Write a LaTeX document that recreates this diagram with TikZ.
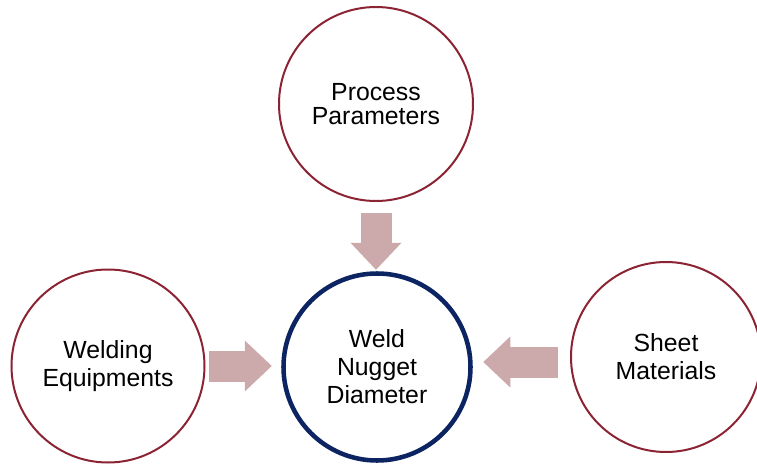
\documentclass[tikz,border=0pt]{standalone}
\usepackage{fontspec}
\setmainfont{Liberation Sans}
\usetikzlibrary{arrows.meta, calc}

\definecolor{ringred}{HTML}{8B2333}
\definecolor{ringblue}{HTML}{0C2462}
\definecolor{arrowpink}{HTML}{CCA9AA}

\begin{document}
\begin{tikzpicture}[x=0.75pt, y=-0.75pt,
		factor/.style={circle, draw=ringred, line width=1.5pt, inner sep=0pt, align=center,
			font=\fontsize{18.6}{21}\selectfont},
		result/.style={circle, draw=ringblue, line width=3.4pt, inner sep=0pt, align=center,
			minimum size=140.25pt, font=\fontsize{18.6}{21}\selectfont},
		push/.style={draw=arrowpink, line width=23.25pt,
			-{Triangle[width=38.25pt, length=20.25pt, line width=0pt]}}]
	\useasboundingbox (0,0) rectangle (757,464);

	\node[factor, minimum size=145.5pt, font=\fontsize{18.6}{18}\selectfont] (process) at (376,104) {Process\\Parameters};
	\node[factor, minimum size=144.75pt] (welding) at (108,366) {Welding\\Equipments};
	\node[factor, minimum size=142.5pt] (sheet) at (666,357) {Sheet\\Materials};
	\node[result] (nugget) at (377,367) {Weld\\Nugget\\Diameter};

	\begin{scope}
		\draw[push, shorten <=8.25pt, shorten >=1.1pt] (process.south) -- (process.south |- nugget.north);
		\draw[push, shorten <=2.85pt, shorten >=7.1pt] (welding.east) -- (welding.east -| nugget.west);
		\draw[push, shorten <=9.2pt, shorten >=7.9pt] ([yshift=-3.75pt]sheet.west) -- ([yshift=-3.75pt]sheet.west -| nugget.east);
	\end{scope}
\end{tikzpicture}
\end{document}
